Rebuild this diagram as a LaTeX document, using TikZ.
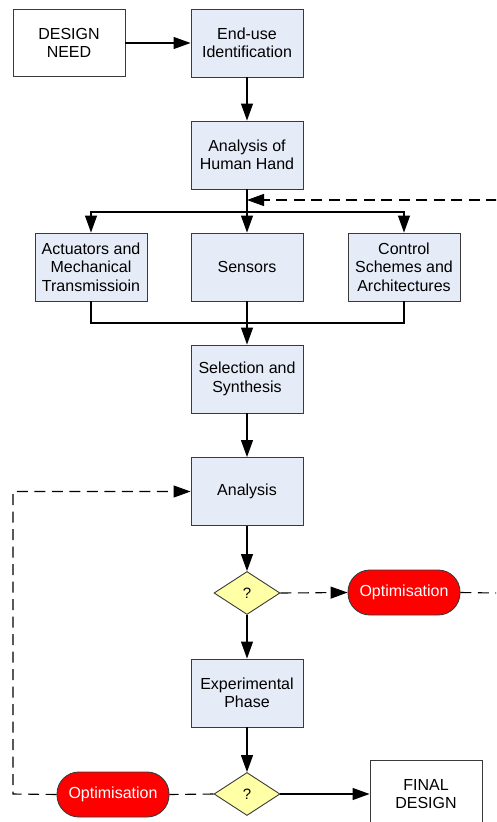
\documentclass[tikz,border=0pt]{standalone}
\usepackage{fontspec}
\setmainfont{Liberation Sans}
\usetikzlibrary{arrows.meta,shapes.geometric}
\definecolor{boxfill}{HTML}{E6ECF7}
\definecolor{boxline}{HTML}{3A3A3A}
\definecolor{diafill}{HTML}{FFFFA6}
\definecolor{optred}{HTML}{FF0000}
\tikzset{
  base/.style={draw=boxline, line width=0.9pt, align=center, inner sep=0pt,
    font=\fontsize{16}{18.4}\selectfont, text=black},
  procbox/.style={base, fill=boxfill, minimum width=112pt, minimum height=68pt},
  termbox/.style={base, fill=white, minimum width=112pt, minimum height=68pt},
  decide/.style={base, diamond, fill=diafill, minimum width=66pt, minimum height=43pt,
    font=\fontsize{15}{17}\selectfont},
  optbox/.style={base, fill=optred, text=white, minimum width=112pt, minimum height=45pt,
    rounded corners=22pt},
  conn/.style={line width=1.1pt, black},
  arr/.style={conn, -{Triangle[length=17pt,width=12pt]}},
  dconn/.style={conn, dash pattern=on 11pt off 6.5pt},
  darr/.style={dconn, -{Triangle[length=17pt,width=12pt]}},
}
\begin{document}
\begin{tikzpicture}[x=1pt,y=-1pt]
\useasboundingbox (0,0) rectangle (496,822);
\clip (0,0) rectangle (496,822);
\fill[white] (0,0) rectangle (496,822);
% nodes
\node[termbox, minimum height=67pt] (need) at (69,43) {DESIGN\\NEED};
\node[procbox] (enduse) at (247,43) {End-use\\Identification};
\node[procbox] (hand) at (247,155) {Analysis of\\Human Hand};
\node[procbox] (act) at (91,267) {Actuators and\\Mechanical\\Transmissioin};
\node[procbox] (sens) at (247,267) {Sensors};
\node[procbox] (ctrl) at (404,267) {Control\\Schemes and\\Architectures};
\node[procbox] (sel) at (247,379) {Selection and\\Synthesis};
\node[procbox] (ana) at (247,491.5) {Analysis};
\node[decide] (d1) at (247,593) {?};
\node[optbox] (opt1) at (404,592.5) {Optimisation};
\node[procbox] (exp) at (247,693) {Experimental\\Phase};
\node[decide] (d2) at (247,794) {?};
\node[optbox] (opt2) at (113,794.5) {Optimisation};
\node[termbox] (fin) at (426,794) {FINAL\\DESIGN};
% helper coordinates
\coordinate (split) at (247,212);
\coordinate (join) at (247,323);
\coordinate (fbtop) at (497,200);
\coordinate (fbright) at (497,593);
\coordinate (leftcorner) at (13,794);
% connectors
\draw[arr] (need.east) -- (enduse.west);
\draw[arr] (enduse.south) -- (hand.north);
\draw[arr] (hand.south) -- (sens.north);
\draw[arr] (split) -| (act.north);
\draw[arr] (split) -| (ctrl.north);
\draw[darr] (fbtop) -- (fbtop -| hand.south);
\draw[conn] (act.south) |- (join) -| (ctrl.south);
\draw[arr] (sens.south) -- (sel.north);
\draw[arr] (sel.south) -- (ana.north);
\draw[arr] (ana.south) -- (d1.north);
\draw[darr] (d1.east) -- (opt1.west);
\draw[dconn] (opt1.east) -- (fbright);
\draw[arr] (d1.south) -- (exp.north);
\draw[arr] (exp.south) -- (d2.north);
\draw[arr] (d2.east) -- (fin.west);
\draw[dconn] (d2.west) -- (opt2.east);
\draw[darr] (opt2.west) -- (leftcorner) |- (ana.west);
\end{tikzpicture}
\end{document}
